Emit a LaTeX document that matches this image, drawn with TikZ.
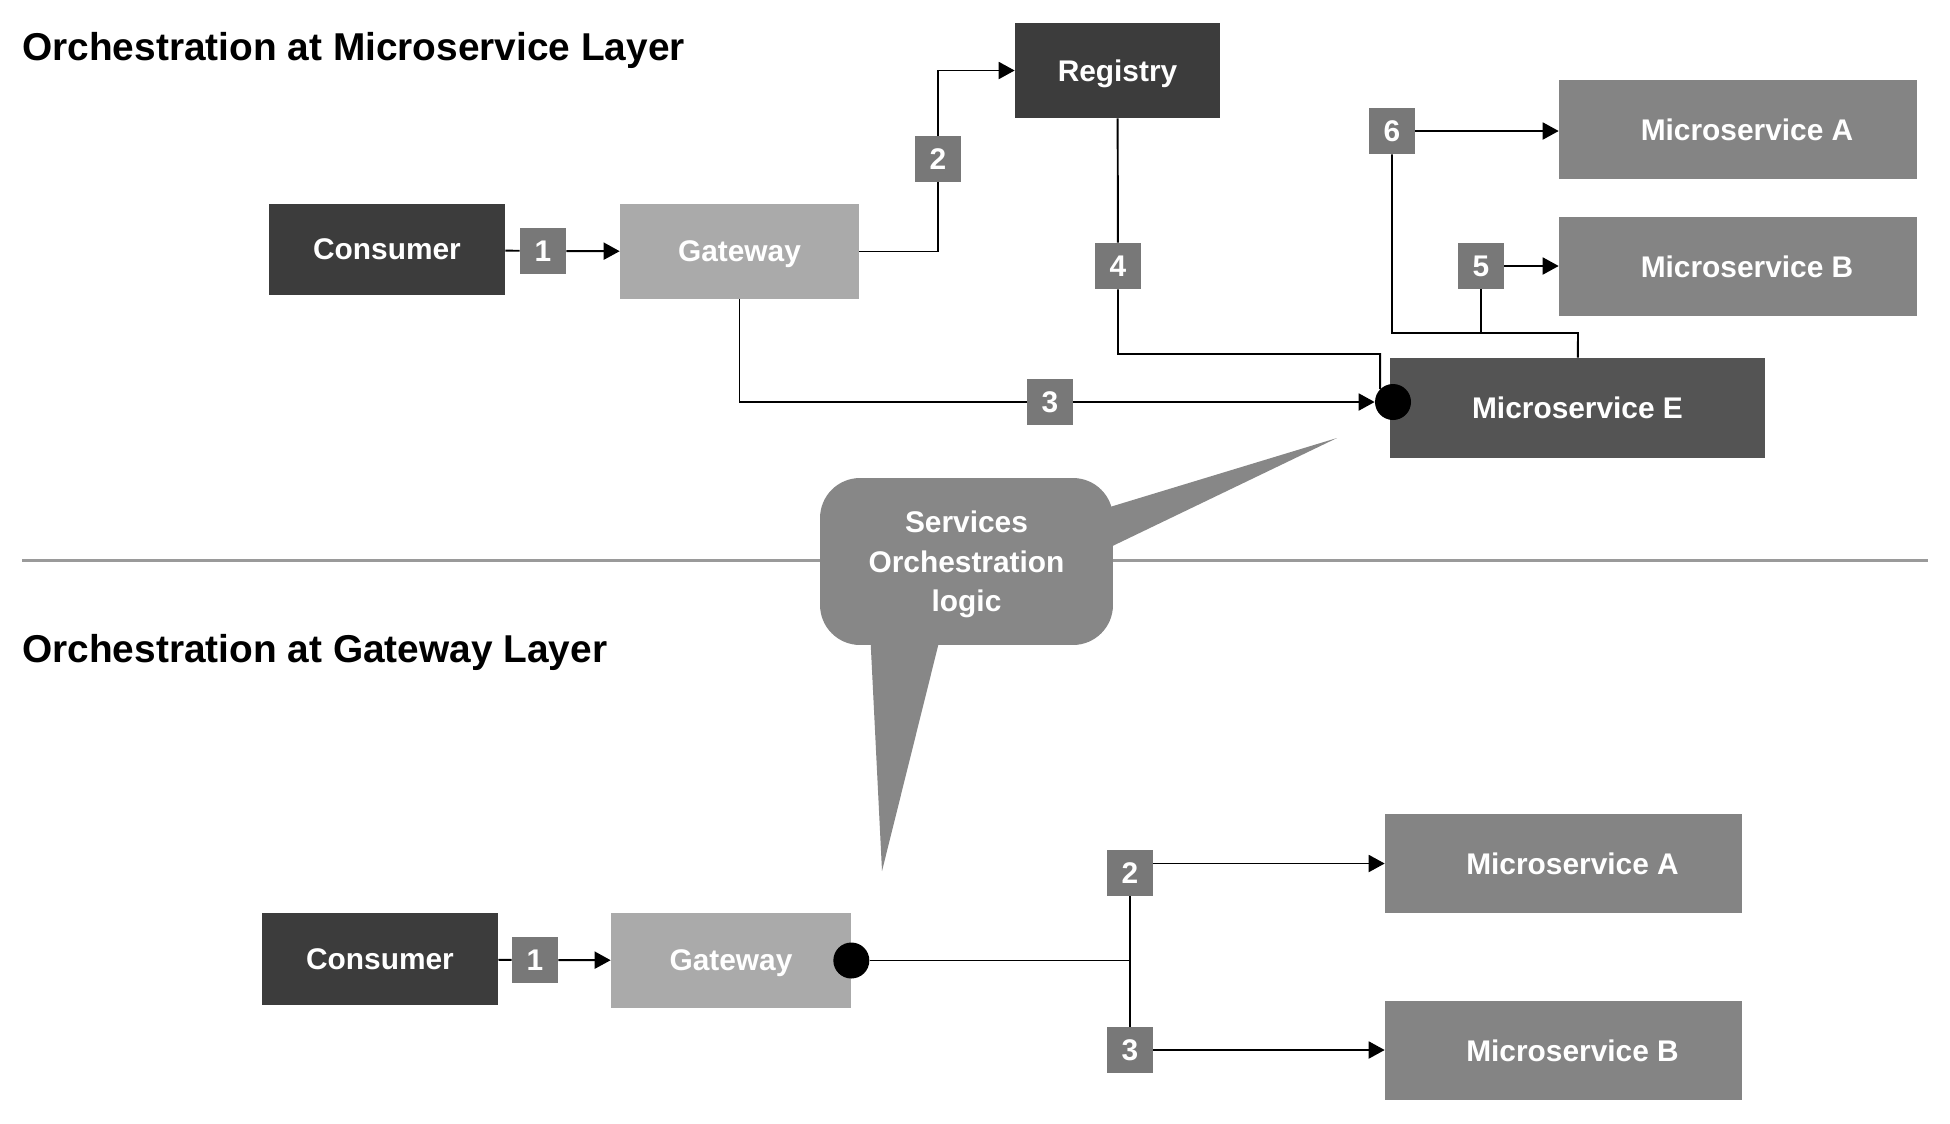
\documentclass[tikz,border=0pt]{standalone}
\usepackage{fontspec}
\setmainfont{Liberation Sans}
\usetikzlibrary{arrows.meta,positioning}
\definecolor{darkbox}{HTML}{3C3C3C}
\definecolor{ebox}{HTML}{545454}
\definecolor{msbox}{HTML}{848484}
\definecolor{gwbox}{HTML}{AAAAAA}
\definecolor{badgegray}{HTML}{787878}
\definecolor{bubblegray}{HTML}{878787}
\definecolor{rulegray}{HTML}{9A9A9A}
\begin{document}
\begin{tikzpicture}[x=0.02cm,y=-0.02cm,
    box/.style={rectangle,inner sep=0pt,text=white,text depth=0pt,font=\fontsize{17}{20}\selectfont\bfseries},
    msbox/.style={box,fill=msbox,execute at begin node=\hspace*{0.36cm}},
    badge/.style={box,fill=badgegray,minimum width=0.92cm,minimum height=0.92cm},
    dot/.style={circle,fill=black,inner sep=0pt,minimum size=0.72cm},
    link/.style={line width=1.1pt},
    arr/.style={link,-{Triangle[length=0.32cm,width=0.34cm]}},
    title/.style={anchor=base west,inner sep=0pt,font=\fontsize{22.1}{26}\selectfont\bfseries}]
  \fill[white] (0,0) rectangle (1950,1123);
  \useasboundingbox (0,0) rectangle (1950,1123);
  \node[title] (t1) at (22,60) {Orchestration at Microservice Layer};
  \node[title] (t2) at (22,662) {Orchestration at Gateway Layer};
  \draw[rulegray,line width=1.7pt] (22,560) -- (1928,560);
  \node[box,fill=darkbox,minimum width=4.72cm,minimum height=1.82cm] (cons1) at (387,249.5) {Consumer};
  \node[box,fill=gwbox,minimum width=4.78cm,minimum height=1.9cm] (gw1) at (739.5,251.5) {Gateway};
  \node[box,fill=darkbox,minimum width=4.1cm,minimum height=1.9cm] (reg) at (1117.5,70.5) {Registry};
  \node[msbox,minimum width=7.16cm,minimum height=1.98cm] (msA1) at (1738,129.5) {Microservice A};
  \node[msbox,minimum width=7.16cm,minimum height=1.98cm] (msB1) at (1738,266.5) {Microservice B};
  \node[box,fill=ebox,minimum width=7.5cm,minimum height=2cm] (msE) at (1577.5,408) {Microservice E};
  \node[dot] (dotE) at (1393,402) {};
  \node[badge] (b1) at (543,251) {1};
  \node[badge] (b2) at (938,159) {2};
  \node[badge] (b3) at (1050,402) {3};
  \node[badge] (b4) at (1118,266) {4};
  \node[badge] (b5) at (1481,266) {5};
  \node[badge] (b6) at (1392,131) {6};
  \coordinate (k4) at (1118,354);
  \coordinate (k5) at (1578,333);
  \draw[arr] (cons1) -- (b1) -- (gw1);
  \draw[arr] (gw1) -| (b2) |- (reg);
  \draw[arr] (gw1) |- (b3) -- (dotE);
  \draw[link] (reg) -- (b4) |- (dotE.north west |- k4) -- (dotE.north west);
  \draw[link] (msE) -- (k5) -| (b6);
  \draw[link] (b5) -- (b5 |- k5);
  \draw[arr] (b6) -- (b6 -| msA1.west);
  \draw[arr] (b5) -- (b5 -| msB1.west);
  \fill[bubblegray] (1100,510) -- (1337,438) -- (1100,552) -- cycle;
  \fill[bubblegray] (870,630) -- (882,871) -- (942,630) -- cycle;
  \node[fill=bubblegray,text=white,inner sep=0pt,rounded corners=0.8cm,align=center,minimum width=5.86cm,minimum height=3.34cm,text depth=0pt,font=\fontsize{17}{22.5}\selectfont\bfseries] (logic) at (966.5,561.5) {Services\\Orchestration\\logic};
  \node[box,fill=darkbox,minimum width=4.72cm,minimum height=1.84cm] (cons2) at (380,959) {Consumer};
  \node[box,fill=gwbox,minimum width=4.8cm,minimum height=1.9cm] (gw2) at (731,960.5) {Gateway};
  \node[dot] (dotG) at (gw2.east) {};
  \node[msbox,minimum width=7.14cm,minimum height=1.98cm] (msA2) at (1563.5,863.5) {Microservice A};
  \node[msbox,minimum width=7.14cm,minimum height=1.98cm] (msB2) at (1563.5,1050.5) {Microservice B};
  \node[badge] (b1b) at (535,960) {1};
  \node[badge] (b2b) at (1130,873) {2};
  \node[badge] (b3b) at (1130,1050) {3};
  \draw[arr] (cons2) -- (b1b) -- (gw2);
  \draw[link] (dotG) -- (dotG -| b2b);
  \draw[link] (b2b) -- (b3b);
  \draw[arr] (b2b.east |- msA2) -- (msA2.west);
  \draw[arr] (b3b) -- (b3b -| msB2.west);
\end{tikzpicture}
\end{document}
